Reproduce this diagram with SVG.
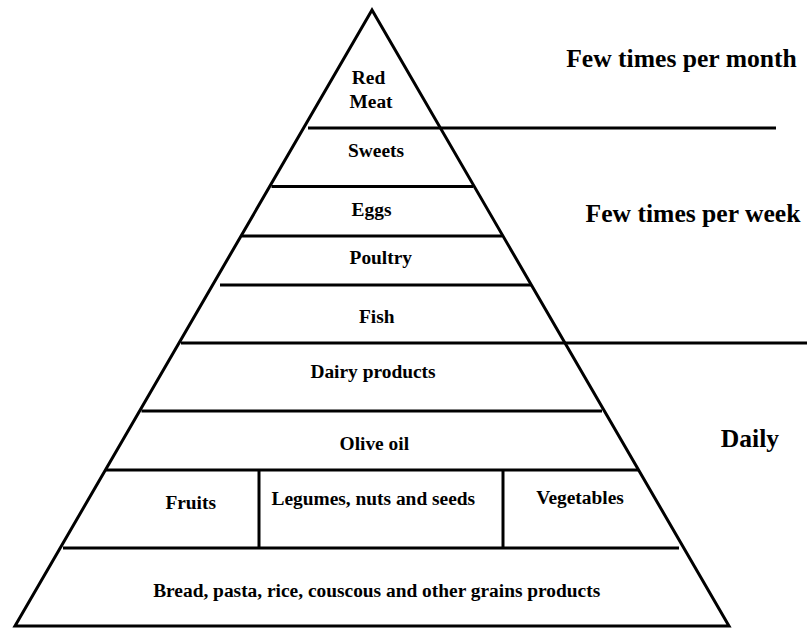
<svg xmlns="http://www.w3.org/2000/svg" width="807" height="628" viewBox="0 0 807 628">
  <style>
    .ln { stroke: #000; stroke-width: 3; fill: none; }
    .lb { font-family: "Liberation Serif", "Times New Roman", serif; font-weight: bold; font-size: 19.4px; fill: #000; text-anchor: middle; }
    .fq { font-family: "Liberation Serif", "Times New Roman", serif; font-weight: bold; font-size: 25.6px; fill: #000; text-anchor: middle; }
  </style>
  <rect x="0" y="0" width="807" height="628" fill="#fff"/>
  <g id="connectors">
    <polygon class="ln" points="372,10 15,626 729,626" stroke-linejoin="miter"/>
    <line class="ln" x1="308" y1="128" x2="776" y2="128"/>
    <line class="ln" x1="271.5" y1="186.5" x2="473" y2="186.5"/>
    <line class="ln" x1="242" y1="236" x2="502" y2="236"/>
    <line class="ln" x1="220" y1="285" x2="532" y2="285"/>
    <line class="ln" x1="181" y1="343" x2="807" y2="343"/>
    <line class="ln" x1="141.5" y1="411" x2="602" y2="411"/>
    <line class="ln" x1="105" y1="470" x2="638" y2="470"/>
    <line class="ln" x1="63" y1="548" x2="679" y2="548"/>
    <line class="ln" x1="259" y1="470" x2="259" y2="548"/>
    <line class="ln" x1="503" y1="470" x2="503" y2="548"/>
  </g>
  <g id="red-meat">
    <text class="lb" x="368.5" y="84.3">Red</text>
    <text class="lb" x="371" y="108.3">Meat</text>
  </g>
  <g id="sweets"><text class="lb" x="376" y="156.7">Sweets</text></g>
  <g id="eggs"><text class="lb" x="371.5" y="216">Eggs</text></g>
  <g id="poultry"><text class="lb" x="380.8" y="264">Poultry</text></g>
  <g id="fish"><text class="lb" x="376.7" y="322.7">Fish</text></g>
  <g id="dairy"><text class="lb" x="373" y="377.7">Dairy products</text></g>
  <g id="olive-oil"><text class="lb" x="374.3" y="450">Olive oil</text></g>
  <g id="fruits"><text class="lb" x="190.7" y="509.3">Fruits</text></g>
  <g id="legumes"><text class="lb" x="373.3" y="505">Legumes, nuts and seeds</text></g>
  <g id="vegetables"><text class="lb" x="580" y="504.3">Vegetables</text></g>
  <g id="grains"><text class="lb" x="376.7" y="597.3">Bread, pasta, rice, couscous and other grains products</text></g>
  <g id="freq-month"><text class="fq" x="681.5" y="67.3">Few times per month</text></g>
  <g id="freq-week"><text class="fq" x="693" y="222">Few times per week</text></g>
  <g id="freq-daily"><text class="fq" x="750" y="446.7">Daily</text></g>
</svg>
